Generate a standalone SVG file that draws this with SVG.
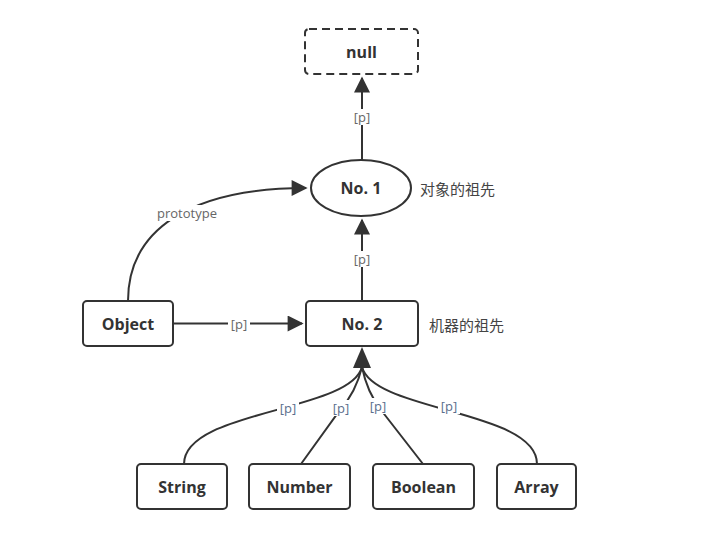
<svg xmlns="http://www.w3.org/2000/svg" width="716" height="543" viewBox="0 0 716 543">
<defs>
<marker id="ahb" viewBox="0 0 10 10" refX="9" refY="5" markerWidth="20" markerHeight="16" markerUnits="userSpaceOnUse" orient="auto">
<path d="M0 0 L10 5 L0 10 z" fill="#333"/>
</marker>
</defs>
<style>
.box{fill:#fff;stroke:#333;stroke-width:2}
.t{font-family:"Open Sans","Liberation Sans",Arial,sans-serif;font-weight:bold;font-size:16px;fill:#333;text-anchor:middle;dominant-baseline:central}
.c{font-family:"Noto Sans CJK SC","Liberation Sans",sans-serif;font-size:15px;fill:#444;dominant-baseline:central}
.l{font-family:"Open Sans","Liberation Sans",Arial,sans-serif;font-size:13px;fill:#666;text-anchor:middle;dominant-baseline:central}
.e{fill:none;stroke:#333;stroke-width:2}
.lb{fill:#fff}
.bl{fill:#5a6e8c}
</style>
<rect width="716" height="543" fill="#fff"/>
<g id="connectors">
<path class="e" d="M362 160 L362 78" marker-end="url(#ahb)"/>
<rect class="lb" x="351" y="109" width="22" height="16"/>
<text class="l" x="362" y="117">[p]</text>
<path class="e" d="M362 301 L362 220" marker-end="url(#ahb)"/>
<rect class="lb" x="351" y="251" width="22" height="16"/>
<text class="l" x="362" y="259">[p]</text>
<path class="e" d="M173 323.5 L302 323.5" marker-end="url(#ahb)"/>
<rect class="lb" x="228" y="316" width="22" height="16"/>
<text class="l" x="239" y="324">[p]</text>
<path class="e" d="M128 301 C128 230 190 188 306 188" marker-end="url(#ahb)"/>
<rect class="lb" x="151" y="205" width="72" height="16"/>
<text class="l" x="187" y="213">prototype</text>
<path class="e" d="M184 464 C184 410 350 412 362 367"/>
<path class="e" d="M301 464 L340 410 Q356 392 362 367"/>
<path class="e" d="M423 464 L381 410 Q367 392 362 367"/>
<path class="e" d="M537 464 C537 410 374 412 362 367"/>
<path d="M362 347 L371 368 L353 368 z" fill="#333"/>
<rect class="lb" x="277" y="400" width="22" height="16"/>
<text class="l bl" x="288" y="408">[p]</text>
<rect class="lb" x="330" y="400" width="22" height="16"/>
<text class="l bl" x="341" y="408">[p]</text>
<rect class="lb" x="367" y="398" width="22" height="16"/>
<text class="l bl" x="378" y="406">[p]</text>
<rect class="lb" x="438" y="398" width="22" height="16"/>
<text class="l bl" x="449" y="406">[p]</text>
</g>
<g id="null">
<rect x="305" y="29" width="113" height="45" rx="4" fill="#fff" stroke="#333" stroke-width="2" stroke-dasharray="8 5"/>
<text class="t" x="361.5" y="51.5">null</text>
</g>
<g id="no1">
<ellipse cx="361" cy="188" rx="50" ry="28" class="box"/>
<text class="t" x="361" y="188">No. 1</text>
<text class="c" x="420" y="188">对象的祖先</text>
</g>
<g id="no2">
<rect x="306" y="301" width="112" height="45" rx="4" class="box"/>
<text class="t" x="362" y="323.5">No. 2</text>
<text class="c" x="429" y="324">机器的祖先</text>
</g>
<g id="object">
<rect x="83" y="301" width="90" height="45" rx="4" class="box"/>
<text class="t" x="128" y="323.5">Object</text>
</g>
<g id="string">
<rect x="137" y="464" width="90" height="45" rx="4" class="box"/>
<text class="t" x="182" y="487">String</text>
</g>
<g id="number">
<rect x="249" y="464" width="101" height="45" rx="4" class="box"/>
<text class="t" x="299.5" y="487">Number</text>
</g>
<g id="boolean">
<rect x="373" y="464" width="101" height="45" rx="4" class="box"/>
<text class="t" x="423.5" y="487">Boolean</text>
</g>
<g id="array">
<rect x="497" y="464" width="79" height="45" rx="4" class="box"/>
<text class="t" x="536.5" y="487">Array</text>
</g>
</svg>
